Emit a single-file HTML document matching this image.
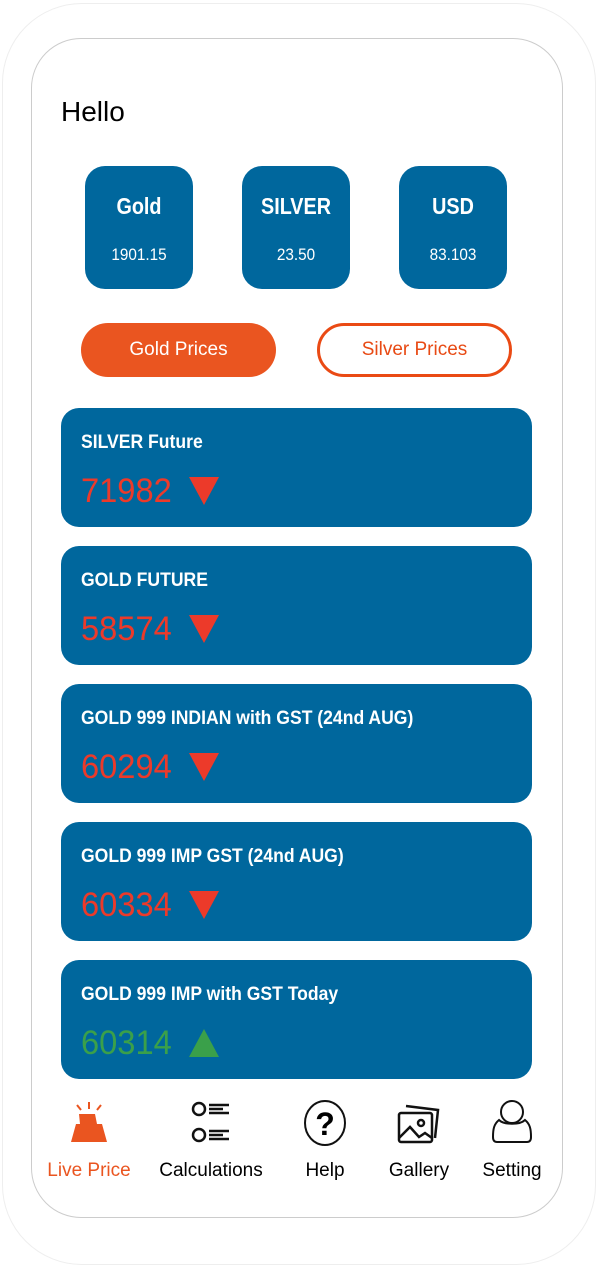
<!DOCTYPE html>
<html><head><meta charset="utf-8"><style>
*{box-sizing:border-box;margin:0;padding:0}
body{width:599px;height:1274px;background:#fff;position:relative;overflow:hidden;font-family:"Liberation Sans",sans-serif}
.abs{position:absolute}
.frame{left:2px;top:3px;width:594px;height:1262px;border:1px solid #eee;border-radius:80px}
.screen{left:31px;top:38px;width:532px;height:1180px;border:1px solid #ccc;border-radius:50px}
.box{width:108px;height:123px;background:#00679d;border-radius:20px;color:#fff;text-align:center}
.box b{display:block;font-size:23px;margin-top:27px;transform:scaleX(0.86)}
.box span{display:block;font-size:17px;margin-top:25px;transform:scaleX(0.9)}
.btn{top:323px;width:195px;height:54px;border-radius:27px;font-size:19px;text-align:center;line-height:54px}
.card{left:61px;width:471px;height:119px;background:#00679d;border-radius:18px;color:#fff}
.card .t{position:absolute;left:20px;top:24px;font-size:19px;font-weight:bold;transform:scaleX(0.925);transform-origin:left;white-space:nowrap}
.card .v{position:absolute;left:20px;top:64px;font-size:34px;transform:scaleX(0.96);transform-origin:left}
.card svg{position:absolute;left:128px;top:69px}
.nav{top:1160px;font-size:19px;text-align:center;width:110px}
</style></head><body>
<div class="abs frame"></div>
<div class="abs screen"></div>
<div class="abs" style="left:61px;top:96px;font-size:28px">Hello</div>

<div class="abs box" style="left:85px;top:166px"><b>Gold</b><span>1901.15</span></div>
<div class="abs box" style="left:242px;top:166px"><b>SILVER</b><span>23.50</span></div>
<div class="abs box" style="left:399px;top:166px"><b>USD</b><span>83.103</span></div>

<div class="abs btn" style="left:81px;background:#ea5520;color:#fff">Gold Prices</div>
<div class="abs btn" style="left:317px;border:3px solid #ea4a14;color:#e84a14;line-height:48px">Silver Prices</div>

<div class="abs card" style="top:408px"><div class="t">SILVER Future</div><div class="v" style="color:#ec3a2a">71982</div><svg width="30" height="28"><polygon points="0,0 30,0 15,28" fill="#ec3a2a"/></svg></div>
<div class="abs card" style="top:546px"><div class="t">GOLD FUTURE</div><div class="v" style="color:#ec3a2a">58574</div><svg width="30" height="28"><polygon points="0,0 30,0 15,28" fill="#ec3a2a"/></svg></div>
<div class="abs card" style="top:684px"><div class="t">GOLD 999 INDIAN with GST (24nd AUG)</div><div class="v" style="color:#ec3a2a">60294</div><svg width="30" height="28"><polygon points="0,0 30,0 15,28" fill="#ec3a2a"/></svg></div>
<div class="abs card" style="top:822px"><div class="t">GOLD 999 IMP GST (24nd AUG)</div><div class="v" style="color:#ec3a2a">60334</div><svg width="30" height="28"><polygon points="0,0 30,0 15,28" fill="#ec3a2a"/></svg></div>
<div class="abs card" style="top:960px"><div class="t">GOLD 999 IMP with GST Today</div><div class="v" style="color:#3aa04a">60314</div><svg width="30" height="28"><polygon points="0,28 30,28 15,0" fill="#3aa04a"/></svg></div>

<svg class="abs" style="left:66px;top:1100px" width="46" height="46"><g fill="#ea5520"><polygon points="13,14 29,14 31,24 36,24 41,42 5,42 10,24 14,24"/></g><g stroke="#ea5520" stroke-width="2"><line x1="23" y1="2" x2="23" y2="9"/><line x1="11" y1="5" x2="15" y2="10"/><line x1="35" y1="5" x2="31" y2="10"/></g></svg>
<svg class="abs" style="left:190px;top:1100px" width="46" height="46"><g fill="none" stroke="#111" stroke-width="2.5"><ellipse cx="9" cy="9" rx="6" ry="6"/><ellipse cx="9" cy="35" rx="6" ry="6"/><path d="M19 5h20M19 9h14M19 13h20M19 31h20M19 35h14M19 39h20"/></g></svg>
<svg class="abs" style="left:302px;top:1099px" width="46" height="48"><ellipse cx="23" cy="24" rx="20" ry="22" fill="none" stroke="#111" stroke-width="2"/><text x="23" y="36" font-size="32" font-weight="bold" text-anchor="middle" font-family="Liberation Sans">?</text></svg>
<svg class="abs" style="left:396px;top:1102px" width="46" height="44"><g fill="none" stroke="#111" stroke-width="2.5"><path d="M10 4l32 4-3 28"/><rect x="3" y="11" width="33" height="29" rx="2"/><circle cx="25" cy="21" r="3"/><path d="M3 36l11-11 9 10 6-4 7 5"/></g></svg>
<svg class="abs" style="left:490px;top:1098px" width="44" height="50"><g fill="none" stroke="#111" stroke-width="2"><circle cx="22" cy="14" r="11"/><path d="M9 22c-5 4-6 9-6 17c0 3 1 5 4 5h30c3 0 4-2 4-5c0-8-1-13-6-17c-5 5-21 5-26 0z"/></g></svg>

<div class="abs nav" style="left:34px;color:#ea5520">Live Price</div>
<div class="abs nav" style="left:156px;width:110px">Calculations</div>
<div class="abs nav" style="left:270px">Help</div>
<div class="abs nav" style="left:364px">Gallery</div>
<div class="abs nav" style="left:457px">Setting</div>
</body></html>
